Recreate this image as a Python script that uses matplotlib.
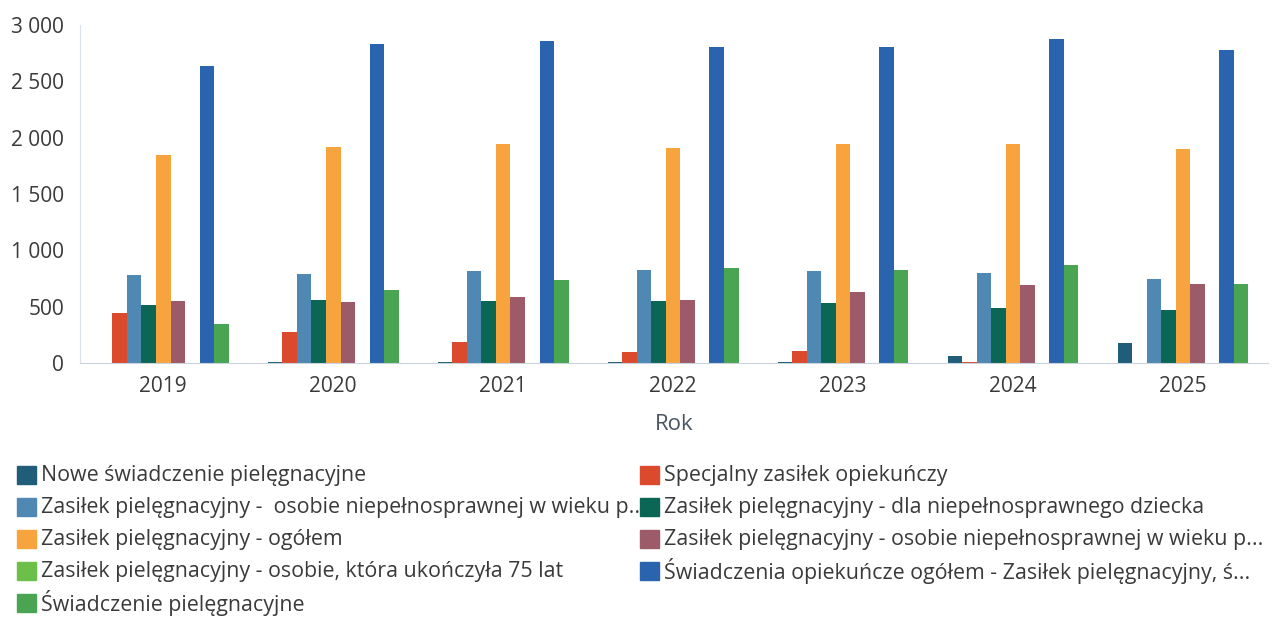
import numpy as np
import matplotlib
matplotlib.use("Agg")
import matplotlib.pyplot as plt
from matplotlib.patches import Rectangle
from matplotlib.ticker import FuncFormatter

plt.rcParams['font.family'] = ['Open Sans', 'DejaVu Sans']

years = ['2019', '2020', '2021', '2022', '2023', '2024', '2025']

series_names = [
    'Nowe świadczenie pielęgnacyjne',
    'Specjalny zasiłek opiekuńczy',
    'Zasiłek pielęgnacyjny -  osobie niepełnosprawnej w wieku p..',
    'Zasiłek pielęgnacyjny - dla niepełnosprawnego dziecka',
    'Zasiłek pielęgnacyjny - ogółem',
    'Zasiłek pielęgnacyjny - osobie niepełnosprawnej w wieku p...',
    'Zasiłek pielęgnacyjny - osobie, która ukończyła 75 lat',
    'Świadczenia opiekuńcze ogółem - Zasiłek pielęgnacyjny, ś...',
    'Świadczenie pielęgnacyjne',
]

nowe = [0, 5, 10, 10, 5, 60, 180]
specjalny = [445, 272, 184, 95, 105, 5, 0]
zp_wiek_a = [780, 792, 818, 822, 813, 801, 748]
zp_dziecko = [515, 559, 550, 553, 529, 485, 471]
zp_ogolem = [1845, 1918, 1947, 1912, 1941, 1947, 1897]
zp_wiek_b = [546, 544, 588, 559, 627, 690, 704]
zp_75 = [0, 0, 0, 0, 0, 0, 0]
opiekuncze = [2634, 2835, 2859, 2809, 2806, 2877, 2774]
pielegnacyjne = [348, 649, 739, 839, 822, 874, 704]

values = [nowe, specjalny, zp_wiek_a, zp_dziecko, zp_ogolem,
          zp_wiek_b, zp_75, opiekuncze, pielegnacyjne]

colors = ['#1f5d78', '#dc4a2e', '#4f88b3', '#0c6656', '#f8a43e',
          '#9d5a68', '#6cc04a', '#2b64ae', '#4aa553']

W, H = 1274, 619
fig = plt.figure(figsize=(W / 100, H / 100), dpi=100)
ax = fig.add_axes([80 / W, 1 - 363 / H, 1188 / W, 338 / H])

x = np.arange(len(years))
bw = 0.0855
for i, (vals, col) in enumerate(zip(values, colors)):
    ax.bar(x + (i - 4) * bw, vals, width=bw, color=col, linewidth=0)

ax.set_xlim(-0.49, len(years) - 0.5)
ax.set_ylim(0, 3000)
ax.set_yticks(range(0, 3001, 500))
ax.yaxis.set_major_formatter(FuncFormatter(lambda v, p: f'{int(v):,}'.replace(',', ' ')))
ax.set_xticks(x)
ax.set_xticklabels(years)
ax.tick_params(length=0, labelsize=15, colors='#3a3a3a')
ax.tick_params(axis='y', pad=11.5)
ax.tick_params(axis='x', pad=9.5)
for s in ['top', 'right']:
    ax.spines[s].set_visible(False)
ax.spines['left'].set_color('#dde3ea')
ax.spines['bottom'].set_color('#c9d3de')
ax.set_xlabel('Rok', fontsize=16, color='#4a5663', labelpad=12)

# legend, two columns, row by row
row_y = [475, 507, 539, 571, 603]
col_x = [17, 640]
for i, (name, col) in enumerate(zip(series_names, colors)):
    r, c = i // 2, i % 2
    yc = row_y[r]
    fig.patches.append(Rectangle((col_x[c] / W, 1 - (yc + 9) / H), 19 / W, 18 / H,
                                 transform=fig.transFigure, color=col))
    fig.text((col_x[c] + 24) / W, 1 - yc / H, name, fontsize=15.4,
             color='#3a3a3a', va='center', ha='left')

fig.savefig('out.png', dpi=100)
